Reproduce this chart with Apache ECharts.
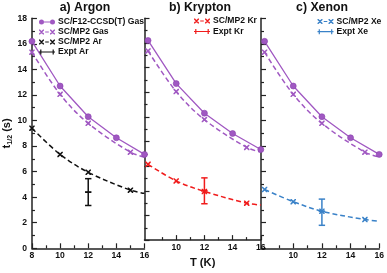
<!DOCTYPE html>
<html><head><meta charset="utf-8">
<script src="https://cdn.jsdelivr.net/npm/echarts@6/dist/echarts.min.js"></script>
<style>html,body{margin:0;padding:0;background:#fff}#c{width:387px;height:273px}</style>
</head><body><div id="c"></div>
<script>
// ---- data ----
const gasT = [8, 10, 12, 14, 16];
const gasF12 = [16.2, 12.7, 10.3, 8.65, 7.35];
const mp2T = [8, 10, 12, 15, 16];          // last entry = end of fitted curve (no marker)
const gasMP2 = [15.35, 12.05, 9.78, 7.52, 7.15];
const arMP2 = [9.4, 7.35, 5.95, 4.55, 4.3];
const krMP2 = [6.15, 4.8, 3.95, 3.0, 2.85];
const xeMP2 = [4.6, 3.65, 2.9, 2.25, 2.12];
const exptT = [12];
const exptAr = [[4.4, 3.35, 5.45]];   // center, low, high
const exptKr = [[4.0, 2.95, 5.05]];
const exptXe = [[2.9, 1.8, 3.85]];
const panelTitles = ['a) Argon', 'b) Krypton', 'c) Xenon'];
const xMajorA = [8, 10, 12, 14, 16];
const xMajorBC = [10, 12, 14, 16];
const xMinor = [9, 11, 13, 15];

// ---- style ----
const FONT = 'Liberation Sans, Arial, Helvetica, sans-serif';
const PURPLE = '#a058c2';
const RED = '#f01c1c';
const BLUE = '#3a82c8';
const BLACK = '#111';
const AX = '#222';
const xSym = 'path://M0,0 L10,0 L50,40 L50,50 L40,50 L0,10 Z M40,0 L50,0 L50,10 L10,50 L0,50 L0,40 Z';
const iconCircle = 'path://M0,25 A25,25 0 1,1 50,25 A25,25 0 1,1 0,25 Z M50,19 L110,19 L110,31 L50,31 Z M110,25 A25,25 0 1,1 160,25 A25,25 0 1,1 110,25 Z';
const iconX = 'path://M0,0 L10,0 L50,40 L50,50 L40,50 L0,10 Z M40,0 L50,0 L50,10 L10,50 L0,50 L0,40 Z M62,20 L98,20 L98,30 L62,30 Z M110,0 L120,0 L160,40 L160,50 L150,50 L110,10 Z M150,0 L160,0 L160,10 L120,50 L110,50 L110,40 Z';
const iconErr = 'path://M0,19 L160,19 L160,31 L0,31 Z M12,0 L24,0 L24,50 L12,50 Z M136,0 L148,0 L148,50 L136,50 Z';

const grids = [
  {left: 30.5, top: 18.3, width: 114, height: 230},
  {left: 144.5, top: 18.3, width: 116.3, height: 230},
  {left: 261, top: 18.3, width: 119.2, height: 230}
];
const xMins = [8, 7.75, 7.75];

const xAxes = [], yAxes = [], series = [];
grids.forEach((g, i) => {
  const major = i === 0 ? xMajorA : xMajorBC;
  xAxes.push({
    gridIndex: i, type: 'value', min: xMins[i], max: 16, position: 'bottom',
    axisLine: {show: true, lineStyle: {color: AX, width: 1.5}},
    axisTick: {show: true, inside: true, length: 5, customValues: major, lineStyle: {color: AX, width: 1.2}},
    axisLabel: {show: true, customValues: major, margin: 3, color: BLACK, fontSize: 8.6, fontWeight: 'bold', fontFamily: FONT},
    splitLine: {show: false},
    name: i === 1 ? 'T (K)' : '', nameLocation: 'middle', nameGap: 11,
    nameTextStyle: {fontSize: 11.2, fontWeight: 'bold', color: BLACK, fontFamily: FONT}
  });
  xAxes.push({
    gridIndex: i, type: 'value', min: xMins[i], max: 16, position: 'bottom',
    axisLine: {show: false},
    axisTick: {show: true, inside: true, length: 3, customValues: xMinor, lineStyle: {color: AX, width: 1.2}},
    axisLabel: {show: false}, splitLine: {show: false}
  });
  yAxes.push({
    gridIndex: i, type: 'value', min: 0, max: 18, interval: 2,
    axisLine: {show: true, lineStyle: {color: AX, width: 1.5}},
    axisTick: {show: true, inside: true, length: 5, lineStyle: {color: AX, width: 1.2}},
    minorTick: {show: true, splitNumber: 2, length: 3, lineStyle: {color: AX, width: 1.2}},
    axisLabel: {show: i === 0, margin: 5, color: BLACK, fontSize: 8.6, fontWeight: 'bold', fontFamily: FONT},
    splitLine: {show: false},
    name: i === 0 ? '{t|t}{s|1/2}{t| (s)}' : '', nameLocation: 'middle', nameGap: 17,
    nameTextStyle: {color: BLACK, fontFamily: FONT, rich: {
      t: {fontSize: 11.2, fontWeight: 'bold', fontFamily: FONT, color: BLACK},
      s: {fontSize: 7, fontWeight: 'bold', fontFamily: FONT, color: BLACK, padding: [7, 0, 0, 0]}
    }}
  });
});

function fitSeries(name, T, vals, color, xi, yi) {
  return {
    name, type: 'line', xAxisIndex: xi, yAxisIndex: yi, smooth: 0.35,
    data: T.map((t, k) => k === T.length - 1 ? {value: [t, vals[k]], symbol: 'none'} : [t, vals[k]]),
    symbol: xSym, symbolSize: 5.5, showSymbol: true,
    itemStyle: {color, borderWidth: 0},
    lineStyle: {color, width: 1.5, type: [5, 3]},
    silent: true, z: 3
  };
}
function errSeries(name, T, vals, color, xi, yi) {
  return {
    name, type: 'custom', xAxisIndex: xi, yAxisIndex: yi,
    itemStyle: {color},
    encode: {x: 0, y: [1, 2, 3]},
    data: T.map((t, k) => [t, vals[k][0], vals[k][1], vals[k][2]]),
    renderItem: (params, api) => {
      const x = api.value(0);
      const pc = api.coord([x, api.value(1)]);
      const pl = api.coord([x, api.value(2)]);
      const ph = api.coord([x, api.value(3)]);
      const w = 3.2;
      const st = {stroke: color, lineWidth: 1.5};
      return {type: 'group', children: [
        {type: 'line', shape: {x1: pc[0], y1: pl[1], x2: pc[0], y2: ph[1]}, style: st},
        {type: 'line', shape: {x1: pc[0] - w, y1: pl[1], x2: pc[0] + w, y2: pl[1]}, style: st},
        {type: 'line', shape: {x1: pc[0] - w, y1: ph[1], x2: pc[0] + w, y2: ph[1]}, style: st},
        {type: 'line', shape: {x1: pc[0] - w, y1: pc[1], x2: pc[0] + w, y2: pc[1]}, style: {stroke: color, lineWidth: 1.8}}
      ]};
    },
    silent: true, z: 4
  };
}

const panelMP2 = [['SC/MP2 Ar', arMP2, BLACK], ['SC/MP2 Kr', krMP2, RED], ['SC/MP2 Xe', xeMP2, BLUE]];
const panelExpt = [['Expt Ar', exptAr, BLACK], ['Expt Kr', exptKr, RED], ['Expt Xe', exptXe, BLUE]];

grids.forEach((g, i) => {
  const xi = 2 * i, yi = i;
  series.push({
    name: 'SC/F12-CCSD(T) Gas', type: 'line', xAxisIndex: xi, yAxisIndex: yi,
    data: gasT.map((t, k) => [t, gasF12[k]]),
    symbol: 'circle', symbolSize: 6,
    itemStyle: {color: PURPLE, borderColor: '#8a3fae', borderWidth: 0.6},
    lineStyle: {color: PURPLE, width: 1.3}, silent: true, z: 3
  });
  series.push(fitSeries('SC/MP2 Gas', mp2T, gasMP2, PURPLE, xi, yi));
  series.push(fitSeries(panelMP2[i][0], mp2T, panelMP2[i][1], panelMP2[i][2], xi, yi));
  series.push(errSeries(panelExpt[i][0], exptT, panelExpt[i][1], panelExpt[i][2], xi, yi));
});

const legendBase = {
  orient: 'vertical', align: 'left', itemWidth: 16, itemHeight: 5, itemGap: 1,
  padding: 0, selectedMode: false,
  itemStyle: {borderWidth: 0},
  textStyle: {fontSize: 8.6, fontWeight: 'bold', color: BLACK, fontFamily: FONT, padding: [0, 0, 0, -2]}
};
const legends = [
  Object.assign({}, legendBase, {left: 39, top: 17.5, data: [
    {name: 'SC/F12-CCSD(T) Gas', icon: iconCircle},
    {name: 'SC/MP2 Gas', icon: iconX},
    {name: 'SC/MP2 Ar', icon: iconX},
    {name: 'Expt Ar', icon: iconErr}]}),
  Object.assign({}, legendBase, {left: 194, top: 16.5, itemGap: 1.5, data: [
    {name: 'SC/MP2 Kr', icon: iconX},
    {name: 'Expt Kr', icon: iconErr}]}),
  Object.assign({}, legendBase, {left: 317.5, top: 17, itemGap: 1.2, data: [
    {name: 'SC/MP2 Xe', icon: iconX},
    {name: 'Expt Xe', icon: iconErr}]})
];

const titleX = [85, 200, 322];
const graphics = panelTitles.map((t, i) => ({
  type: 'text', x: titleX[i], y: 8,
  style: {text: t, font: 'bold 12.3px ' + FONT, fill: BLACK, textAlign: 'center', textVerticalAlign: 'middle'}
}));

const chart = echarts.init(document.getElementById('c'), null, {renderer: 'canvas'});
chart.setOption({
  animation: false,
  backgroundColor: '#fff',
  grid: grids,
  xAxis: xAxes,
  yAxis: yAxes,
  legend: legends,
  graphic: graphics,
  series
});
</script></body></html>
